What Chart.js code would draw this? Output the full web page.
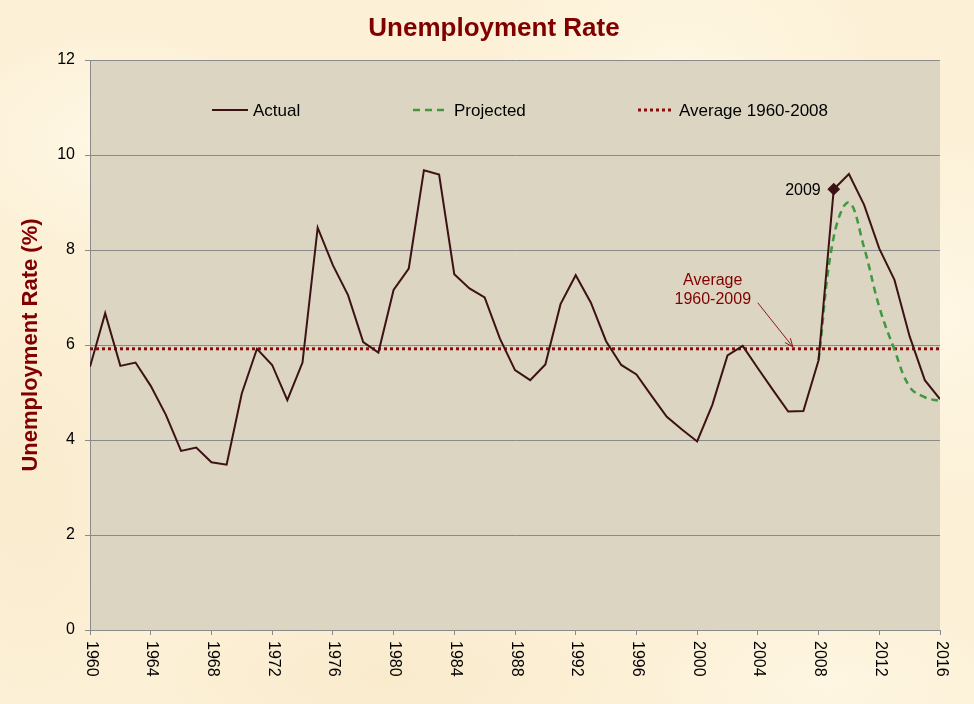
<!DOCTYPE html>
<html>
<head>
<meta charset="utf-8">
<title>Unemployment Rate</title>
<script src="https://cdn.jsdelivr.net/npm/chart.js@4.4.1/dist/chart.umd.min.js"></script>
<style>
  html, body { margin: 0; padding: 0; }
  body {
    width: 974px;
    height: 704px;
    overflow: hidden;
    background-color: #fcf0d6;
    background-image:
      radial-gradient(ellipse 180px 120px at 12% 20%, rgba(255, 249, 232, 0.9), transparent),
      radial-gradient(ellipse 220px 140px at 70% 8%, rgba(255, 248, 228, 0.8), transparent),
      radial-gradient(ellipse 160px 200px at 97% 45%, rgba(255, 249, 232, 0.8), transparent),
      radial-gradient(ellipse 240px 90px at 40% 96%, rgba(248, 232, 200, 0.7), transparent),
      radial-gradient(ellipse 120px 220px at 3% 70%, rgba(248, 233, 202, 0.7), transparent),
      radial-gradient(ellipse 200px 90px at 85% 97%, rgba(255, 248, 230, 0.8), transparent);
  }
  canvas { display: block; }
</style>
</head>
<body>
<canvas id="chart" width="974" height="704"></canvas>
<script>
const FONT = '"Liberation Sans", Arial, sans-serif';

const years = [
  1960, 1961, 1962, 1963, 1964, 1965, 1966, 1967, 1968, 1969,
  1970, 1971, 1972, 1973, 1974, 1975, 1976, 1977, 1978, 1979,
  1980, 1981, 1982, 1983, 1984, 1985, 1986, 1987, 1988, 1989,
  1990, 1991, 1992, 1993, 1994, 1995, 1996, 1997, 1998, 1999,
  2000, 2001, 2002, 2003, 2004, 2005, 2006, 2007, 2008, 2009,
  2010, 2011, 2012, 2013, 2014, 2015, 2016
];
const actual = [
  5.54, 6.67, 5.56, 5.63, 5.14, 4.53, 3.77, 3.84, 3.53, 3.48,
  4.98, 5.92, 5.58, 4.84, 5.63, 8.47, 7.68, 7.05, 6.06, 5.84,
  7.16, 7.61, 9.68, 9.59, 7.49, 7.19, 7.00, 6.14, 5.47, 5.26,
  5.59, 6.86, 7.47, 6.89, 6.08, 5.58, 5.38, 4.93, 4.49, 4.22,
  3.97, 4.74, 5.78, 5.98, 5.51, 5.05, 4.60, 4.61, 5.68, 9.28,
  9.60, 8.95, 8.03, 7.37, 6.18, 5.26, 4.86
];
const projectedYears = [2008, 2009, 2010, 2011, 2012, 2013, 2014, 2015, 2016];
const projected = [5.68, 8.28, 9.00, 8.05, 6.80, 5.90, 5.12, 4.90, 4.82];
const averageYears = [1960, 2016];
const averageRate = 5.92;
const xTickYears = [1960, 1964, 1968, 1972, 1976, 1980, 1984, 1988, 1992, 1996, 2000, 2004, 2008, 2012, 2016];
const yTickValues = [0, 2, 4, 6, 8, 10, 12];
const markYear = 2009;
const averageNote = ['Average', '1960-2009'];
const averageArrowYear = 2006.3;

const plotBackground = {
  id: 'plotBackground',
  beforeDraw(chart) {
    const { ctx, chartArea: a } = chart;
    ctx.save();
    ctx.fillStyle = '#dcd5c2';
    ctx.fillRect(a.left, a.top, a.right - a.left, a.bottom - a.top);
    ctx.restore();
  }
};

const mainTitle = {
  id: 'mainTitle',
  afterDraw(chart) {
    const { ctx } = chart;
    ctx.save();
    ctx.font = 'bold 26px ' + FONT;
    ctx.fillStyle = '#800000';
    ctx.textAlign = 'center';
    ctx.textBaseline = 'middle';
    ctx.fillText('Unemployment Rate', chart.width / 2 + 7, 29);
    ctx.restore();
  }
};

const yearLabels = {
  id: 'yearLabels',
  afterDraw(chart) {
    const { ctx, scales: { x } } = chart;
    ctx.save();
    ctx.font = '16px ' + FONT;
    ctx.fillStyle = '#000';
    ctx.textAlign = 'left';
    ctx.textBaseline = 'middle';
    x.ticks.forEach(t => {
      ctx.save();
      ctx.translate(x.getPixelForValue(t.value) + 1, x.top + 11);
      ctx.rotate(Math.PI / 2);
      ctx.fillText(String(t.value), 0, 0);
      ctx.restore();
    });
    ctx.restore();
  }
};

const insideLegend = {
  id: 'insideLegend',
  afterDraw(chart) {
    const { ctx, chartArea: a } = chart;
    const offsets = [122, 323, 548];
    const y = a.top + 50;
    ctx.save();
    ctx.font = '17px ' + FONT;
    ctx.fillStyle = '#000';
    ctx.textBaseline = 'middle';
    chart.data.datasets.forEach((ds, i) => {
      const x0 = a.left + offsets[i];
      ctx.save();
      ctx.strokeStyle = ds.borderColor;
      ctx.lineWidth = ds.borderWidth;
      ctx.setLineDash(ds.borderDash || []);
      ctx.beginPath();
      ctx.moveTo(x0, y);
      ctx.lineTo(x0 + 36, y);
      ctx.stroke();
      ctx.restore();
      ctx.fillText(ds.label, x0 + 41, y + 1);
    });
    ctx.restore();
  }
};

const notes = {
  id: 'notes',
  afterDatasetsDraw(chart) {
    const { ctx, scales: { x, y } } = chart;
    const mx = x.getPixelForValue(markYear);
    const my = y.getPixelForValue(actual[years.indexOf(markYear)]);
    ctx.save();
    ctx.font = '16px ' + FONT;
    ctx.fillStyle = '#000';
    ctx.textAlign = 'right';
    ctx.textBaseline = 'middle';
    ctx.fillText(String(markYear), mx - 13, my + 1);

    const tx = x.getPixelForValue(averageArrowYear);
    const ty = y.getPixelForValue(averageRate) - 2;
    ctx.fillStyle = '#800000';
    ctx.textAlign = 'center';
    ctx.fillText(averageNote[0], tx - 80, ty - 66);
    ctx.fillText(averageNote[1], tx - 80, ty - 47);

    const sx = tx - 35, sy = ty - 44;
    const ang = Math.atan2(ty - sy, tx - sx);
    ctx.strokeStyle = '#8b1a1a';
    ctx.lineWidth = 1;
    ctx.beginPath();
    ctx.moveTo(sx, sy);
    ctx.lineTo(tx, ty);
    ctx.moveTo(tx - 9 * Math.cos(ang - 0.4), ty - 9 * Math.sin(ang - 0.4));
    ctx.lineTo(tx, ty);
    ctx.lineTo(tx - 9 * Math.cos(ang + 0.4), ty - 9 * Math.sin(ang + 0.4));
    ctx.stroke();
    ctx.restore();
  }
};

new Chart(document.getElementById('chart'), {
  type: 'line',
  data: {
    datasets: [
      {
        label: 'Actual',
        data: years.map((yr, i) => ({ x: yr, y: actual[i] })),
        borderColor: '#3d1214',
        backgroundColor: '#3d1214',
        borderWidth: 2,
        tension: 0,
        pointStyle: 'rectRot',
        pointRadius: ctx => (years[ctx.dataIndex] === markYear ? 5 : 0),
        pointBackgroundColor: '#3d1214',
        pointBorderColor: '#3d1214',
        order: 1
      },
      {
        label: 'Projected',
        data: projectedYears.map((yr, i) => ({ x: yr, y: projected[i] })),
        borderColor: '#40983f',
        borderWidth: 2.5,
        borderDash: [7, 5],
        tension: 0.4,
        pointRadius: 0,
        order: 2
      },
      {
        label: 'Average 1960-2008',
        data: averageYears.map(yr => ({ x: yr, y: averageRate })),
        borderColor: '#8c0a0a',
        borderWidth: 3,
        borderDash: [3, 3],
        pointRadius: 0,
        order: 3
      }
    ]
  },
  options: {
    responsive: false,
    animation: false,
    events: [],
    layout: { padding: { top: 60, right: 34, left: 0, bottom: 0 } },
    plugins: {
      legend: { display: false },
      title: { display: false },
      tooltip: { enabled: false }
    },
    scales: {
      x: {
        type: 'linear',
        min: 1960,
        max: 2016,
        afterBuildTicks: scale => { scale.ticks = xTickYears.map(v => ({ value: v })); },
        afterFit: scale => { scale.height = 74; },
        ticks: { color: 'rgba(0,0,0,0)', maxRotation: 0, autoSkip: false },
        grid: { drawOnChartArea: false, drawTicks: true, tickLength: 5, color: '#8a8a8a' },
        border: { color: '#8a8a8a' }
      },
      y: {
        min: 0,
        max: 12,
        afterBuildTicks: scale => { scale.ticks = yTickValues.map(v => ({ value: v })); },
        afterFit: scale => { scale.width = 90; },
        ticks: {
          color: '#000',
          padding: 10,
          font: { family: FONT, size: 16 }
        },
        grid: { color: '#8a8a8a', tickLength: 5 },
        border: { color: '#8a8a8a' },
        title: {
          display: true,
          text: 'Unemployment Rate (%)',
          color: '#800000',
          font: { family: FONT, size: 22, weight: 'bold' },
          padding: { top: 18, bottom: 0 }
        }
      }
    }
  },
  plugins: [plotBackground, mainTitle, yearLabels, insideLegend, notes]
});
</script>
</body>
</html>
